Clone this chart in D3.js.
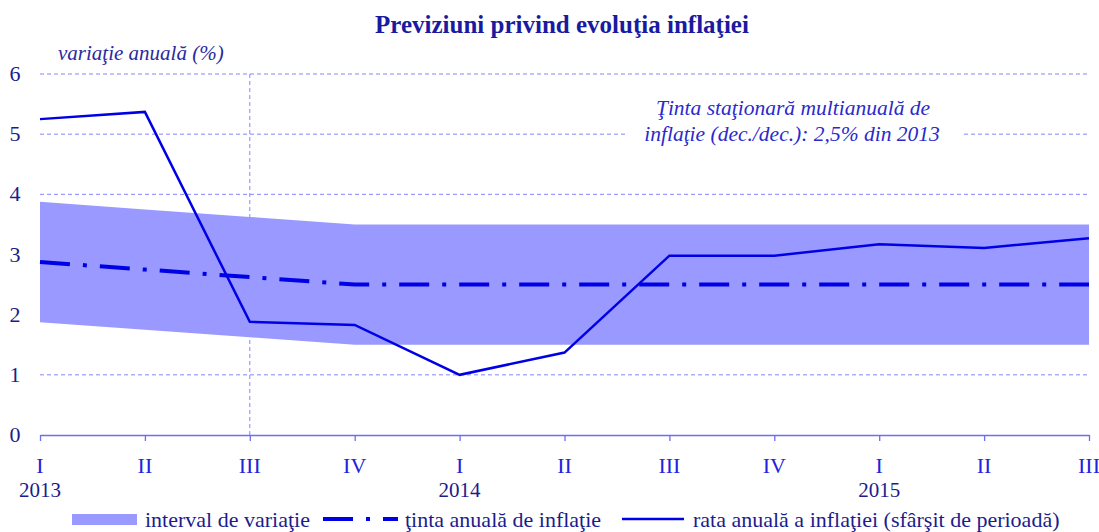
<!DOCTYPE html>
<html lang="ro">
<head>
<meta charset="UTF-8">
<script src="https://d3js.org/d3.v7.min.js"></script>
<style>
  html,body{margin:0;padding:0;background:#fff;}
  svg{display:block;}
  svg text{font-family:"Liberation Serif","DejaVu Serif",serif;}
</style>
</head>
<body>
<div id="chart"></div>
<script>
// trimestre
var quarters = ["I","II","III","IV","I","II","III","IV","I","II","III"];
var years = {0:"2013", 4:"2014", 8:"2015"};
// interval de variatie
var bandLow  = [1.875, 1.75, 1.625, 1.5, 1.5, 1.5, 1.5, 1.5, 1.5, 1.5, 1.5];
var bandHigh = [3.875, 3.75, 3.625, 3.5, 3.5, 3.5, 3.5, 3.5, 3.5, 3.5, 3.5];
// tinta anuala
var target = [2.875, 2.75, 2.625, 2.5, 2.5, 2.5, 2.5, 2.5, 2.5, 2.5, 2.5];
// rata anuala a inflatiei
var inflation = [5.25, 5.37, 1.88, 1.83, 1.0, 1.37, 2.98, 2.98, 3.17, 3.11, 3.27];
var yTicks = [0,1,2,3,4,5,6];

var width = 1099, height = 532;
var svg = d3.select("#chart").append("svg")
    .attr("width", width).attr("height", height)
    .attr("font-family", "Liberation Serif, DejaVu Serif, serif");

var x = d3.scaleLinear().domain([0, quarters.length-1]).range([40, 1089]);
var y = d3.scaleLinear().domain([0, 6]).range([435, 74]);

var gridCol = "#8585ff", navy = "#1c1c8c", blue = "#0000e6";

// grid
svg.append("g").selectAll("line")
  .data(yTicks.slice(1)).enter().append("line")
  .attr("x1", x(0)).attr("x2", x(10))
  .attr("y1", d => y(d)).attr("y2", d => y(d))
  .attr("stroke", gridCol).attr("stroke-width", 1)
  .attr("stroke-dasharray", "4,3");

svg.append("line")
  .attr("x1", x(2)).attr("x2", x(2))
  .attr("y1", y(6)).attr("y2", y(0))
  .attr("stroke", gridCol).attr("stroke-width", 1)
  .attr("stroke-dasharray", "4,3");

// band
var area = d3.area()
  .x((d,i) => x(i))
  .y0((d,i) => y(bandLow[i]))
  .y1(d => y(d));
svg.append("path").datum(bandHigh)
  .attr("d", area).attr("fill", "#9999ff");

// target
var line = d3.line().x((d,i) => x(i)).y(d => y(d));
svg.append("path").datum(target)
  .attr("d", line).attr("fill", "none")
  .attr("stroke", blue).attr("stroke-width", 4)
  .attr("stroke-dasharray", "30,13,4,13");

// inflation
svg.append("path").datum(inflation)
  .attr("d", line).attr("fill", "none")
  .attr("stroke", blue).attr("stroke-width", 2.5)
  .attr("stroke-linejoin", "miter");

// x axis
var xAxis = d3.axisBottom(x).tickValues(d3.range(quarters.length))
  .tickSize(6).tickSizeOuter(0).tickFormat("");
var gx = svg.append("g").attr("transform", "translate(0," + y(0) + ")").call(xAxis);
gx.select(".domain").attr("stroke", "#6e6ef0").attr("stroke-width", 1.3);
gx.selectAll(".tick line").attr("stroke", "#6e6ef0").attr("stroke-width", 1.3);

svg.append("g").selectAll("text")
  .data(quarters).enter().append("text")
  .attr("x", (d,i) => x(i)).attr("y", 473)
  .attr("text-anchor", "middle")
  .attr("font-size", 22).attr("fill", "#2222dd")
  .text(d => d);

svg.append("g").selectAll("text")
  .data(Object.keys(years)).enter().append("text")
  .attr("x", d => x(+d)).attr("y", 497)
  .attr("text-anchor", "middle")
  .attr("font-size", 21).attr("fill", navy)
  .text(d => years[d]);

// y labels
svg.append("g").selectAll("text")
  .data(yTicks).enter().append("text")
  .attr("x", 15).attr("y", d => y(d) + 7)
  .attr("text-anchor", "middle")
  .attr("font-size", 22).attr("fill", navy)
  .text(d => d);

// title
svg.append("text")
  .attr("x", 562).attr("y", 33)
  .attr("text-anchor", "middle")
  .attr("font-size", 25).attr("font-weight", "bold").attr("fill", "#1a1aa0")
  .text("Previziuni privind evoluţia inflaţiei");

svg.append("text")
  .attr("x", 58).attr("y", 60)
  .attr("font-size", 21).attr("font-style", "italic").attr("fill", "#2a2aa0")
  .text("variaţie anuală (%)");

// annotation
var ann = svg.append("g");
ann.append("rect").attr("x", 625).attr("y", 92).attr("width", 336).attr("height", 58).attr("fill", "#fff");
ann.append("text").attr("x", 793).attr("y", 115)
  .attr("text-anchor", "middle").attr("font-size", 21.5).attr("font-style", "italic").attr("fill", "#2a2acc")
  .text("Ţinta staţionară multianuală de");
ann.append("text").attr("x", 792).attr("y", 141)
  .attr("text-anchor", "middle").attr("font-size", 21.5).attr("font-style", "italic").attr("fill", "#2a2acc")
  .text("inflaţie (dec./dec.): 2,5% din 2013");

// legend
var leg = svg.append("g").attr("font-size", 22).attr("fill", navy);
leg.append("rect").attr("x", 72).attr("y", 514).attr("width", 65).attr("height", 11).attr("fill", "#9999ff");
leg.append("text").attr("x", 145).attr("y", 527).text("interval de variaţie");
leg.append("line").attr("x1", 323).attr("x2", 398).attr("y1", 519).attr("y2", 519)
  .attr("stroke", blue).attr("stroke-width", 4).attr("stroke-dasharray", "30,13,4,13");
leg.append("text").attr("x", 405).attr("y", 527).text("ţinta anuală de inflaţie");
leg.append("line").attr("x1", 622).attr("x2", 684).attr("y1", 519).attr("y2", 519)
  .attr("stroke", blue).attr("stroke-width", 2.5);
leg.append("text").attr("x", 693).attr("y", 527).text("rata anuală a inflaţiei (sfârşit de perioadă)");
</script>
</body>
</html>
